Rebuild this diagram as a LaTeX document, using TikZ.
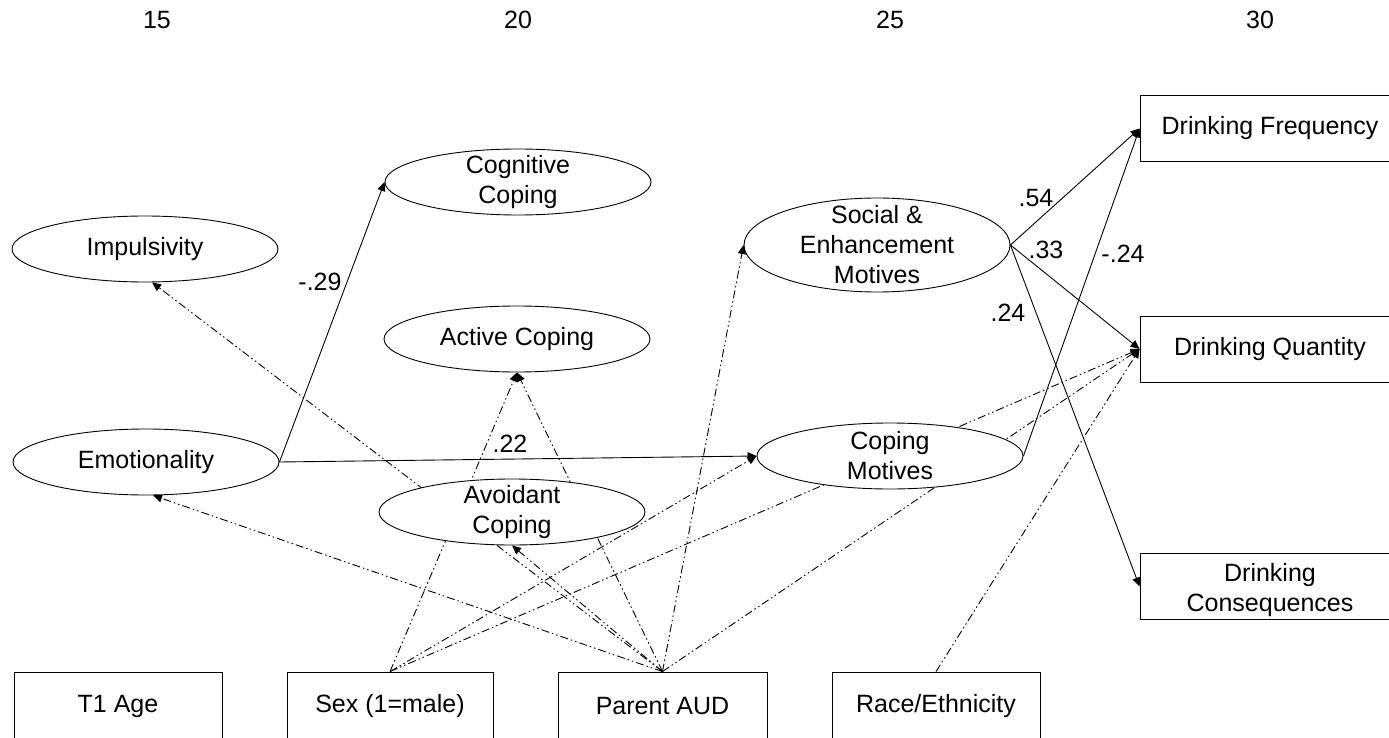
\documentclass[tikz,border=0pt]{standalone}
\usepackage{fontspec}
\setmainfont{Liberation Sans}
\usetikzlibrary{shapes.geometric,arrows.meta,backgrounds}
\begin{document}
\begin{tikzpicture}[x=1pt,y=-1pt,
  font=\fontsize{25}{30}\selectfont,
  ell/.style={ellipse, draw=black, line width=0.9pt, fill=white, minimum width=266pt, minimum height=66pt, inner sep=0pt},
  box/.style={rectangle, draw=black, line width=0.9pt, fill=white, inner sep=0pt, minimum height=66pt},
  txt/.style={align=center, inner sep=0pt},
  lbl/.style={inner sep=0pt},
  solidarrow/.style={draw, line width=0.9pt, -{Triangle[length=9pt,width=8pt]}},
  dda/.style={draw, line width=0.9pt, dash pattern=on 8pt off 3pt on 1.5pt off 3pt on 1.5pt off 3pt, -{Triangle[length=9pt,width=8pt]}}
]
\useasboundingbox (0,0) rectangle (1389,738);

% header numbers
\node[lbl] (h15) at (157,20) {15};
\node[lbl] (h20) at (518,20) {20};
\node[lbl] (h25) at (890,20) {25};
\node[lbl] (h30) at (1260,20) {30};

% ellipses
\node[ell] (imp) at (145,249) {};
\node[txt] at (imp) {Impulsivity};
\node[ell] (emo) at (146,462) {};
\node[txt] at (emo) {Emotionality};
\node[ell] (cog) at (518,182) {};
\node[txt] at (cog) {Cognitive\\Coping};
\node[ell] (act) at (517,339) {};
\node[txt] at (act) {Active Coping};
\node[ell] (avo) at (512,512) {};
\node[txt] at (avo) {Avoidant\\Coping};
\node[ell, minimum height=94pt] (se) at (877,245) {};
\node[txt] at (se) {Social \&\\Enhancement\\Motives};
\node[ell] (cm) at (890,456) {};
\node[txt] at (cm) {Coping\\Motives};

% outcome boxes
\node[box, minimum width=260pt] (df) at (1270,128.5) {Drinking Frequency};
\node[box, minimum width=260pt] (dq) at (1270,349) {Drinking Quantity};
\node[box, minimum width=260pt] (dc) at (1270,586.5) {};
\node[txt] at ([yshift=-4pt]dc.center) {Drinking\\Consequences};

% covariate boxes
\node[box, minimum width=208pt, minimum height=68pt] (age) at (118,706) {T1 Age};
\node[box, minimum width=206pt, minimum height=68pt] (sex) at (390,706) {Sex (1=male)};
\node[box, minimum width=209pt, minimum height=68pt] (paud) at (662.5,706) {Parent AUD};
\node[box, minimum width=208pt, minimum height=68pt] (race) at (936,706) {Race/Ethnicity};

\begin{pgfonlayer}{background}
% solid paths
\path[solidarrow] (emo.east) -- (cog.west);
\path[solidarrow] (emo.east) -- (cm.west);
\path[solidarrow] (se.east) -- (df.west);
\path[solidarrow] (se.east) -- (dq.west);
\path[solidarrow] (se.east) -- (dc.west);
\path[solidarrow] (cm.east) -- (df.west);
% covariate paths
\path[dda] (paud.north) -- (imp.282);
\path[dda] (paud.north) -- (emo.282);
\path[dda] (paud.north) -- (act.south);
\path[dda] (paud.north) -- (avo.south);
\path[dda] (paud.north) -- (se.west);
\path[dda] (paud.north) -- (dq.west);
\path[dda] (sex.north) -- (act.south);
\path[dda] (sex.north) -- (cm.west);
\path[dda] (sex.north) -- (dq.west);
\path[dda] (race.north) -- (dq.west);
\end{pgfonlayer}

% path coefficients
\node[lbl] (c1) at (320,282) {-.29};
\node[lbl] (c2) at (510,444) {.22};
\node[lbl] (c3) at (1036,198) {.54};
\node[lbl] (c4) at (1046,250) {.33};
\node[lbl] (c5) at (1123,254) {-.24};
\node[lbl] (c6) at (1008,313) {.24};
\end{tikzpicture}
\end{document}
